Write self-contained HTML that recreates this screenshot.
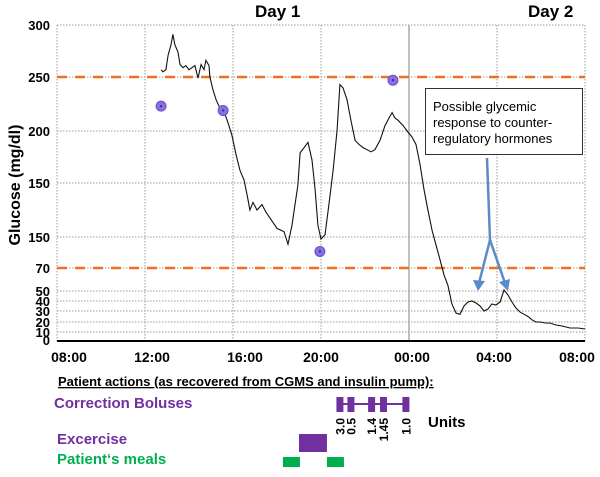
<!DOCTYPE html>
<html><head><meta charset="utf-8"><style>
body{margin:0;background:#fff;}
svg text{font-family:"Liberation Sans",Arial,sans-serif;}
</style></head><body>
<svg width="600" height="472" viewBox="0 0 600 472" xmlns="http://www.w3.org/2000/svg" id="chart">
<g id="grid"></g><g id="marks"></g><g id="labels"></g>
</svg>
<script>
const tickValues=[0,10,20,30,40,50,70,100,150,200,250,300];
const tickLabels=["0","10","20","30","40","50","70","150","150","200","250","300"];
const tickPos=[341,332,322,311,301,291,268,237,183,131,77,25];
const xTickHours=[0,4,8,12,16,20,24];
const xTickLabels=["08:00","12:00","16:00","20:00","00:00","04:00","08:00"];
const xLabelShift=[12,7,12,0,3,-3,-8];
const thresholds=[250,70];
const cgmHours=[4.73,4.82,4.95,5.05,5.18,5.27,5.36,5.5,5.59,5.73,5.86,6.0,6.14,6.27,6.41,6.55,6.68,6.77,6.91,6.95,7.09,7.23,7.41,7.59,7.77,7.95,8.14,8.32,8.5,8.64,8.77,8.91,9.09,9.32,9.5,9.73,10.0,10.32,10.5,10.68,10.82,10.95,11.05,11.41,11.59,11.73,11.86,12.0,12.18,12.36,12.55,12.73,12.86,13.0,13.18,13.36,13.55,13.73,13.91,14.09,14.27,14.45,14.68,14.91,15.09,15.23,15.36,15.5,15.73,15.95,16.14,16.32,16.5,16.68,16.86,17.05,17.23,17.41,17.59,17.77,17.95,18.14,18.32,18.5,18.68,18.86,19.05,19.23,19.41,19.59,19.77,19.95,20.14,20.32,20.5,20.68,20.86,21.05,21.23,21.41,21.59,21.77,21.95,22.18,22.41,22.68,22.95,23.32,23.68,24];
const cgmValues=[257,255,257,271,281,291,281,274,262,259,261,257,259,261,249,262,257,266,261,250,238,229,221,218,208,196,177,162,153,139,125,132,125,130,123,116,108,105,93,111,130,148,179,189,172,144,111,98,102,130,162,201,243,240,229,210,191,187,184,182,180,182,191,205,212,217,212,210,205,199,194,187,168,144,125,106,92,78,64,55,37,28,27,35,39,40,38,35,30,32,37,36,39,51,46,39,33,29,27,25,22,20,20,19,19,17,16,14,14,13];
const fingerHours=[4.73,7.55,11.95,15.27];
const fingerValues=[223,219,86,247];
const bolusHours=[12.86,13.36,14.3,14.84,15.86];
const bolusUnits=["3.0","0.5","1.4","1.45","1.0"];
const exerciseStart=11.0, exerciseEnd=12.27;
const mealHours=[10.27,12.27];

const X0=57,HPX=22;
function xs(h){return X0+h*HPX;}
function ys(v){for(let i=0;i<tickValues.length-1;i++){if(v<=tickValues[i+1]){const t=(v-tickValues[i])/(tickValues[i+1]-tickValues[i]);return tickPos[i]+t*(tickPos[i+1]-tickPos[i]);}}return tickPos[tickPos.length-1];}
const NS="http://www.w3.org/2000/svg";
function mk(p,tag,a,txt){const e=document.createElementNS(NS,tag);for(const k in a)e.setAttribute(k,a[k]);if(txt!==undefined)e.textContent=txt;p.appendChild(e);return e;}
const grid=document.getElementById('grid'),marks=document.getElementById('marks'),labels=document.getElementById('labels');
tickValues.forEach((v,i)=>{
 if(v===0)return;
 const y=ys(v);
 const l=mk(grid,'line',{x1:X0,x2:xs(24),y1:y,y2:y,stroke:'#bbb','stroke-width':1.5,'stroke-dasharray':'1.5 1.5'});
 
 
 const t=mk(labels,'text',{x:50,y:y+5,'text-anchor':'end','font-size':13,'font-weight':'bold'},tickLabels[i]);
 
 
});
const z=mk(labels,'text',{x:50,y:345,'text-anchor':'end','font-size':13,'font-weight':'bold'},"0");


xTickHours.forEach((h,i)=>{
 const x=xs(h);
 const l=mk(grid,'line',{x1:x,x2:x,y1:25,y2:341,stroke:h===16?'#aaa':'#bbb','stroke-width':1.5,'stroke-dasharray':h===16?'none':'1.5 1.5'});
 
 
 const t=mk(labels,'text',{x:x+xLabelShift[i],y:362,'text-anchor':'middle','font-size':14,'font-weight':'bold'},xTickLabels[i]);
 
 
});
const ax=mk(grid,'line',{x1:X0,x2:xs(24),y1:341,y2:341,stroke:'#000','stroke-width':2});


thresholds.forEach(v=>{
 const y=ys(v);
 const l=mk(grid,'line',{x1:X0,x2:xs(24),y1:y,y2:y,stroke:'#ee7020','stroke-width':2.5,'stroke-dasharray':'10 8'});
 
 
});
let d='';cgmHours.forEach((h,i)=>{d+=(i?'L':'M')+xs(h).toFixed(1)+' '+ys(cgmValues[i]).toFixed(1);});
const p=mk(marks,'path',{d:d,fill:'none',stroke:'#111','stroke-width':1.1});


fingerHours.forEach((h,i)=>{
 const c=mk(marks,'circle',{cx:xs(h),cy:ys(fingerValues[i]),r:5,fill:'#8a6fe0',stroke:'#6a4fc8','stroke-width':1});
 
 
 mk(marks,'circle',{cx:xs(h),cy:ys(fingerValues[i]),r:1.2,fill:'#4a2a90'});
});
const bl=mk(marks,'line',{x1:xs(bolusHours[0]),x2:xs(bolusHours[bolusHours.length-1]),y1:404,y2:404,stroke:'#7030a0','stroke-width':2});


bolusHours.forEach((h,i)=>{
 const r=mk(marks,'rect',{x:xs(h)-3.5,y:397,width:7,height:15,fill:'#7030a0'});
 
 
 const x=xs(h);
 const t=mk(labels,'text',{x:0,y:0,transform:`translate(${x+4.5},418) rotate(-90)`,'text-anchor':'end','font-size':12,'font-weight':'bold'},bolusUnits[i]);
 
 
});
const ex=mk(marks,'rect',{x:xs(exerciseStart),y:434,width:xs(exerciseEnd)-xs(exerciseStart),height:18,fill:'#7030a0'});


mealHours.forEach(h=>{
 const r=mk(marks,'rect',{x:xs(h),y:457,width:17,height:10,fill:'#00b050'});
 
 
});
</script>
<svg width="600" height="472" style="position:absolute;left:0;top:0" xmlns="http://www.w3.org/2000/svg">
<text x="255" y="17" font-size="17" font-weight="bold">Day 1</text>
<text x="528" y="17" font-size="17" font-weight="bold">Day 2</text>
<text transform="translate(20,185) rotate(-90)" text-anchor="middle" font-size="16" font-weight="bold">Glucose (mg/dl)</text>
<g>
<rect x="425.5" y="88.5" width="157" height="66" fill="#fff" stroke="#333" stroke-width="1"/>
<text x="433" y="111" font-size="13">Possible  glycemic</text>
<text x="433" y="127" font-size="13">response to counter-</text>
<text x="433" y="143" font-size="13">regulatory  hormones</text>
</g>
<g stroke="#5a8ac8" stroke-width="2.5" fill="#5a8ac8">
<polyline points="487,158 490,240 479,283" fill="none"/>
<polyline points="490,240 505,283" fill="none"/>
<polygon points="473,280 485,281 478,291" stroke="none"/>
<polygon points="499,282 510,279 508,291" stroke="none"/>
</g>
<text x="58" y="386" font-size="13" font-weight="bold" text-decoration="underline">Patient actions (as recovered from CGMS and insulin pump):</text>
<text x="54" y="408" font-size="15" font-weight="bold" fill="#7030a0">Correction Boluses</text>
<text x="428" y="427" font-size="15" font-weight="bold">Units</text>
<text x="57" y="444" font-size="15" font-weight="bold" fill="#7030a0">Excercise</text>
<text x="57" y="464" font-size="15" font-weight="bold" fill="#00b050">Patient‘s meals</text>
</svg>
</body></html>
